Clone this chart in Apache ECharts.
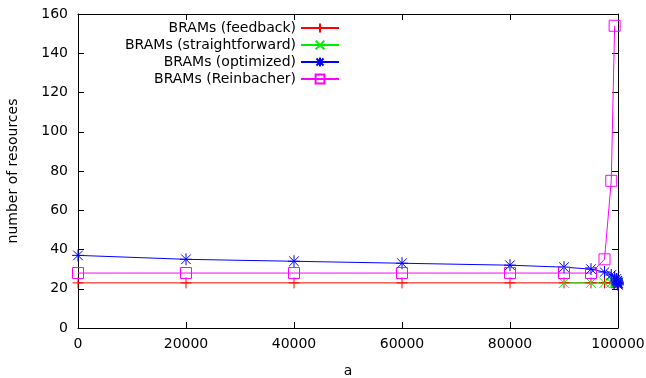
<!DOCTYPE html>
<html>
<head>
<meta charset="utf-8">
<script src="https://cdn.jsdelivr.net/npm/echarts@6/dist/echarts.min.js"></script>
<style>
  html, body { margin: 0; padding: 0; background: #fff; }
  #chart { width: 646px; height: 378px; }
</style>
</head>
<body>
<div id="chart"></div>
<script>
const aValues = [0, 20000, 40000, 60000, 80000, 90000, 95000, 97500, 98750,
  99375, 99687.5, 99843.75, 99921.875, 99960.9375, 99980.46875, 99990.234375];
const feedback = [23, 23, 23, 23, 23, 23, 23, 23, 23, 23, 23, 23, 23, 23, 23, 23];
const straightforward = [null, null, null, null, null, 23, 23, 23, 23, 23, 23, 23, 23, 23, 23, 23];
const optimized = [37, 35, 34, 33, 32, 31, 30, 28.5, 27, 26, 25, 24, 23.5, 23, 22.5, 22];
const reinbacher = [28, 28, 28, 28, 28, 28, 28, 35, 75, 154, null, null, null, null, null, null];
const yTicks = [0, 20, 40, 60, 80, 100, 120, 140, 160];
const xTicks = [0, 20000, 40000, 60000, 80000, 100000];

const FONT = "DejaVu Sans";
const plusPath = "path://M5,0L5,10M0,5L10,5";
const crossPath = "path://M0,0L10,10M10,0L0,10";
const starPath = "path://M5,0L5,10M0,5L10,5M1,1L9,9M9,1L1,9";
const boxPath = "path://M0,0L10,0L10,10L0,10Z";

const pairs = (ys) => aValues.map((x, i) => [x, ys[i]]).filter((p) => p[1] != null);

const makeSeries = (name, ys, color, symbol, size) => ({
  name,
  type: "line",
  data: pairs(ys),
  symbol,
  symbolSize: size,
  showAllSymbol: true,
  animation: false,
  lineStyle: { color, width: 1 },
  itemStyle: { color: "none", borderColor: color, borderWidth: 1 },
  emphasis: { disabled: true },
});

const chart = echarts.init(document.getElementById("chart"));

const baseX = {
  type: "value",
  min: xTicks[0],
  max: xTicks[xTicks.length - 1],
  interval: 20000,
  splitLine: { show: false },
  axisLine: { show: true, onZero: false, lineStyle: { color: "#000", width: 1 } },
  axisTick: { show: true, inside: true, length: 6, lineStyle: { color: "#000" } },
};
const baseY = {
  type: "value",
  min: yTicks[0],
  max: yTicks[yTicks.length - 1],
  interval: 20,
  splitLine: { show: false },
  axisLine: { show: true, onZero: false, lineStyle: { color: "#000", width: 1 } },
  axisTick: { show: true, inside: true, length: 6, lineStyle: { color: "#000" } },
};

chart.setOption({
  backgroundColor: "#fff",
  textStyle: { fontFamily: FONT },
  grid: { left: 78, right: 28, top: 14, bottom: 50, outerBoundsMode: "none", containLabel: false },
  legend: {
    orient: "vertical",
    align: "right",
    right: 306,
    top: 21,
    padding: 0,
    itemGap: 3,
    itemWidth: 38,
    itemHeight: 11,
    selectedMode: false,
    textStyle: { fontFamily: FONT, fontSize: 14, color: "#000" },
    data: ["BRAMs (feedback)", "BRAMs (straightforward)", "BRAMs (optimized)", "BRAMs (Reinbacher)"],
  },
  xAxis: [
    {
      ...baseX,
      position: "bottom",
      name: "a",
      nameLocation: "middle",
      nameGap: 36,
      nameTextStyle: { fontFamily: FONT, fontSize: 14, color: "#000" },
      axisLabel: { color: "#000", fontSize: 14, fontFamily: FONT, margin: 9, formatter: (v) => String(v) },
    },
    { ...baseX, position: "top", axisLabel: { show: false } },
  ],
  yAxis: [
    {
      ...baseY,
      position: "left",
      name: "number of resources",
      nameLocation: "middle",
      nameGap: 58,
      nameTextStyle: { fontFamily: FONT, fontSize: 14, color: "#000" },
      axisLabel: { color: "#000", fontSize: 14, fontFamily: FONT, margin: 10 },
    },
    { ...baseY, position: "right", axisLabel: { show: false } },
  ],
  series: [
    makeSeries("BRAMs (feedback)", feedback, "#ff0000", plusPath, 11),
    makeSeries("BRAMs (straightforward)", straightforward, "#00ee00", crossPath, 10),
    makeSeries("BRAMs (optimized)", optimized, "#0000ff", starPath, 12),
    makeSeries("BRAMs (Reinbacher)", reinbacher, "#ff00ff", boxPath, 11),
  ],
});
</script>
</body>
</html>
